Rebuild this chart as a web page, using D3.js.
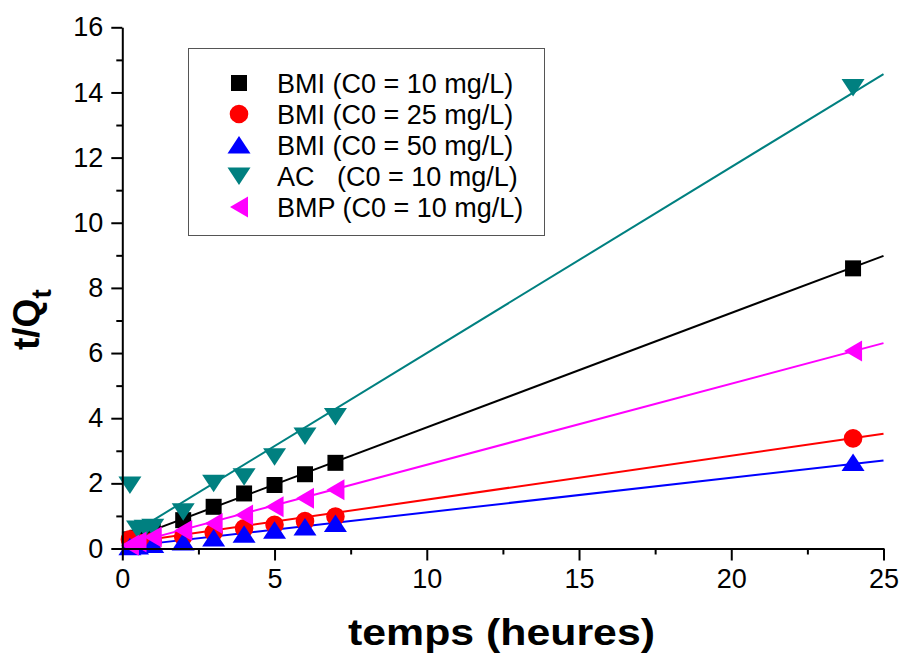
<!DOCTYPE html>
<html>
<head>
<meta charset="utf-8">
<script src="https://cdn.jsdelivr.net/npm/d3@7"></script>
<style>
  html, body { margin: 0; padding: 0; background: #fff; }
  svg { display: block; font-family: "Liberation Sans", Arial, sans-serif; }
</style>
</head>
<body>
<svg id="chart" width="903" height="659"></svg>
<script>
// ---------- data ----------
const seriesNames = ["BMI (C0 = 10 mg/L)", "BMI (C0 = 25 mg/L)", "BMI (C0 = 50 mg/L)", "AC   (C0 = 10 mg/L)", "BMP (C0 = 10 mg/L)"];
const seriesColors = ["#000000", "#ff0000", "#0000ff", "#008080", "#ff00ff"];
const seriesMarkers = ["square", "circle", "triangleUp", "triangleDown", "triangleLeft"];

const timesBMI = [0.25, 0.5, 1, 2, 3, 4, 5, 6, 7, 24];
const timesAC  = [0.25, 0.5, 0.75, 1, 2, 3, 4, 5, 6, 7, 24];

const bmi10 = [0.28, 0.33, 0.52, 0.87, 1.28, 1.69, 1.95, 2.28, 2.63, 8.6];
const bmi25 = [0.28, 0.18, 0.22, 0.36, 0.49, 0.62, 0.73, 0.84, 0.98, 3.38];
const bmi50 = [0.05, 0.08, 0.12, 0.2, 0.32, 0.44, 0.56, 0.66, 0.77, 2.64];
const ac    = [1.95, 0.6, 0.62, 0.65, 1.13, 2.0, 2.2, 2.82, 3.45, 4.05, 14.15];
const bmp   = [0.1, 0.2, 0.35, 0.55, 0.77, 1.03, 1.28, 1.54, 1.8, 6.06];

// linear fit parameters (t/Qt = intercept + slope * t)
const fitIntercepts = [0.21, 0.15, 0.05, 0.29, 0.08];
const fitSlopes     = [0.351, 0.135, 0.106, 0.571, 0.249];

const xTicks = [0, 5, 10, 15, 20, 25];
const xMinorTicks = [2.5, 7.5, 12.5, 17.5, 22.5];
const yTicks = [0, 2, 4, 6, 8, 10, 12, 14, 16];
const yMinorTicks = [1, 3, 5, 7, 9, 11, 13, 15];

const xTitle = "temps (heures)";
const yTitleMain = "t/Q";
const yTitleSub = "t";

const seriesTimes = [timesBMI, timesBMI, timesBMI, timesAC, timesBMI];
const seriesValues = [bmi10, bmi25, bmi50, ac, bmp];

// ---------- layout ----------
const svg = d3.select("#chart");
const x = d3.scaleLinear().domain([0, 25]).range([122.3, 883.5]);
const y = d3.scaleLinear().domain([0, 16]).range([548.5, 27.3]);

function markerPath(type) {
  const p = d3.path();
  if (type === "square") {
    p.rect(-8, -8, 16, 16);
  } else if (type === "circle") {
    p.arc(0, 0, 9.3, 0, 2 * Math.PI);
  } else if (type === "triangleUp") {
    p.moveTo(0, -9); p.lineTo(11.5, 8.5); p.lineTo(-11.5, 8.5); p.closePath();
  } else if (type === "triangleDown") {
    p.moveTo(0, 9); p.lineTo(11.5, -8.5); p.lineTo(-11.5, -8.5); p.closePath();
  } else if (type === "triangleLeft") {
    p.moveTo(-9, 0); p.lineTo(9, -10.5); p.lineTo(9, 10.5); p.closePath();
  }
  return p.toString();
}

// ---------- fit lines ----------
const lines = svg.append("g");
seriesNames.forEach((name, i) => {
  const xs = [0, 25];
  lines.append("path")
    .attr("d", d3.line().x(d => x(d)).y(d => y(fitIntercepts[i] + fitSlopes[i] * d))(xs))
    .attr("fill", "none")
    .attr("stroke", seriesColors[i])
    .attr("stroke-width", 2);
});

// ---------- points ----------
seriesNames.forEach((name, i) => {
  const pts = seriesTimes[i].map((t, k) => [t, seriesValues[i][k]]);
  svg.append("g").selectAll("path").data(pts).join("path")
    .attr("transform", d => `translate(${x(d[0])},${y(d[1])})`)
    .attr("d", markerPath(seriesMarkers[i]))
    .attr("fill", seriesColors[i]);
});

// ---------- axes ----------
function styleAxis(g) {
  g.selectAll("path.domain").attr("stroke", "#000").attr("stroke-width", 2);
  g.selectAll(".tick line").attr("stroke", "#000").attr("stroke-width", 2);
  g.selectAll(".tick text").attr("fill", "#000").style("font-size", "27px")
    .style("font-family", '"Liberation Sans", Arial, sans-serif');
}

const yAxisG = svg.append("g").attr("transform", `translate(${x(0)},0)`)
  .call(d3.axisLeft(y).tickValues(yTicks).tickSize(11).tickSizeOuter(0).tickPadding(8).tickFormat(d3.format("d")));
styleAxis(yAxisG);
const yMinorG = svg.append("g").attr("transform", `translate(${x(0)},0)`)
  .call(d3.axisLeft(y).tickValues(yMinorTicks).tickSize(6).tickSizeOuter(0).tickFormat(""));
yMinorG.select("path.domain").remove();
styleAxis(yMinorG);

const xAxisG = svg.append("g").attr("transform", `translate(0,${y(0)})`)
  .call(d3.axisBottom(x).tickValues(xTicks).tickSize(12).tickSizeOuter(0).tickPadding(8).tickFormat(d3.format("d")));
styleAxis(xAxisG);
const xMinorG = svg.append("g").attr("transform", `translate(0,${y(0)})`)
  .call(d3.axisBottom(x).tickValues(xMinorTicks).tickSize(6).tickSizeOuter(0).tickFormat(""));
xMinorG.select("path.domain").remove();
styleAxis(xMinorG);

// ---------- titles ----------
svg.append("text")
  .attr("x", 348).attr("y", 645)
  .attr("textLength", 307).attr("lengthAdjust", "spacingAndGlyphs")
  .style("font-size", "37px").style("font-weight", "bold")
  .text(xTitle);

const yt = svg.append("text")
  .attr("transform", "translate(39,350) rotate(-90)")
  .style("font-size", "37px").style("font-weight", "bold");
yt.append("tspan").text(yTitleMain);
yt.append("tspan").attr("dy", 12).style("font-size", "28px").text(yTitleSub);

// ---------- legend ----------
const lg = svg.append("g");
lg.append("rect")
  .attr("x", 188.5).attr("y", 48.5).attr("width", 356).attr("height", 187)
  .attr("fill", "#fff").attr("stroke", "#555").attr("stroke-width", 1);
seriesNames.forEach((name, i) => {
  const cy = 83 + i * 31;
  lg.append("path")
    .attr("transform", `translate(239,${cy})`)
    .attr("d", markerPath(seriesMarkers[i]))
    .attr("fill", seriesColors[i]);
  lg.append("text")
    .attr("x", 277).attr("y", cy + 9.5)
    .style("font-size", "27px")
    .style("white-space", "pre")
    .attr("xml:space", "preserve")
    .text(name);
});
</script>
</body>
</html>
